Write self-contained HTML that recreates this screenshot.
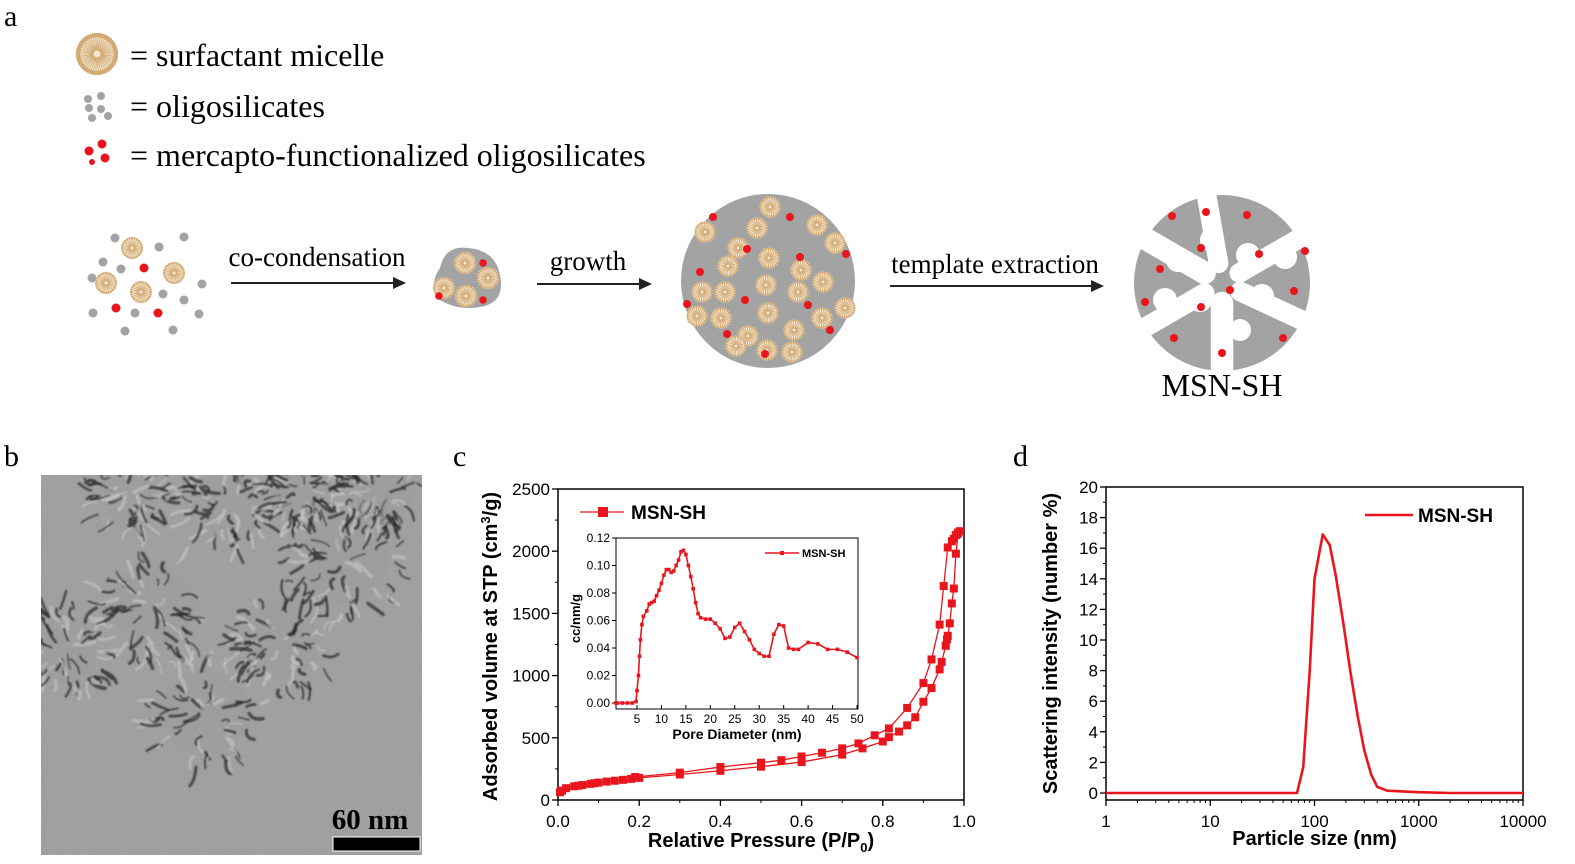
<!DOCTYPE html>
<html><head><meta charset="utf-8"><style>
html,body{margin:0;padding:0;background:#fff;}
svg{display:block;}
.serif{font-family:"Liberation Serif",serif;}
.sans{font-family:"Liberation Sans",sans-serif;}
</style></head><body>
<svg id="fig" width="1575" height="864" viewBox="0 0 1575 864" xmlns="http://www.w3.org/2000/svg">
<defs>
<filter id="noise" x="0" y="0" width="100%" height="100%"><feTurbulence type="fractalNoise" baseFrequency="1.2" numOctaves="2" seed="3"/><feColorMatrix type="matrix" values="0.33 0.33 0.33 0 0  0.33 0.33 0.33 0 0  0.33 0.33 0.33 0 0  0 0 0 0 1"/></filter>
<filter id="blur1"><feGaussianBlur stdDeviation="0.9"/></filter>
<clipPath id="temClip"><rect x="41" y="475" width="381" height="380"/></clipPath>
</defs>
<g id="panelA">
<text class="serif" x="4" y="26" font-size="30">a</text>
<g id="legA"></g>
<text class="serif" x="130" y="66" font-size="32">= surfactant micelle</text>
<text class="serif" x="130" y="117" font-size="32">= oligosilicates</text>
<text class="serif" x="130" y="166" font-size="32">= mercapto-functionalized oligosilicates</text>
<g id="stage1"></g>
<text class="serif" x="317" y="266" font-size="27" text-anchor="middle">co-condensation</text>
<line x1="231" y1="283" x2="398" y2="283" stroke="#222" stroke-width="2"/>
<polygon points="406,283 393,277 393,289" fill="#222"/>
<g id="stage2"></g>
<text class="serif" x="588" y="270" font-size="27" text-anchor="middle">growth</text>
<line x1="537" y1="284" x2="644" y2="284" stroke="#222" stroke-width="2"/>
<polygon points="652,284 639,278 639,290" fill="#222"/>
<g id="stage3"></g>
<text class="serif" x="995" y="273" font-size="27" text-anchor="middle">template extraction</text>
<line x1="890" y1="286" x2="1096" y2="286" stroke="#222" stroke-width="2"/>
<polygon points="1104,286 1091,280 1091,292" fill="#222"/>
<g id="stage4"></g>
<text class="serif" x="1222" y="396" font-size="32" text-anchor="middle">MSN-SH</text>
</g>
<g id="panelB">
<text class="serif" x="4" y="466" font-size="30">b</text>
<rect x="41" y="475" width="381" height="380" fill="#959595"/>
<rect x="41" y="475" width="381" height="380" filter="url(#noise)" opacity="0.3"/>
<g clip-path="url(#temClip)"><g id="temBlobs" filter="url(#blur1)"></g></g>
<text class="serif" x="370" y="829" font-size="29" font-weight="bold" text-anchor="middle">60 nm</text>
<rect x="333" y="837" width="87" height="14" fill="#000" stroke="#fff" stroke-width="1"/>
</g>
<g id="panelC">
<text class="serif" x="453" y="466" font-size="30">c</text>
</g>
<g id="panelD">
<text class="serif" x="1013" y="466" font-size="30">d</text>
</g>
</svg>
<script>
// ---------- Panel c data ----------
const adsP = [0.005,0.01,0.02,0.04,0.05,0.06,0.08,0.09,0.1,0.12,0.14,0.16,0.18,0.2,0.3,0.4,0.5,0.6,0.7,0.75,0.8,0.815,0.84,0.86,0.88,0.9,0.92,0.94,0.945,0.955,0.958,0.96,0.965,0.97,0.975,0.98,0.985,0.99];
const adsV = [62,75,95,110,115,120,130,135,140,148,155,162,170,178,205,235,268,305,365,415,470,505,550,600,665,790,900,1050,1110,1240,1290,1320,1420,1580,1700,1980,2140,2160];
const desP = [0.99,0.985,0.98,0.975,0.97,0.96,0.95,0.94,0.92,0.9,0.86,0.815,0.78,0.74,0.7,0.65,0.6,0.55,0.5,0.4,0.3,0.19];
const desV = [2160,2150,2130,2100,2080,2030,1720,1410,1130,940,740,575,520,455,415,380,350,320,300,265,220,185];
const cXTicks = [0,0.2,0.4,0.6,0.8,1.0];
const cXLabels = ["0.0","0.2","0.4","0.6","0.8","1.0"];
const cYTicks = [0,500,1000,1500,2000,2500];
const insetD = [0.7,1,2,3,4,4.8,5,5.3,5.5,5.7,6,6.3,7,7.5,8,8.5,9,9.5,10,10.5,11,11.5,12,12.5,13,13.5,14,14.5,15,15.5,16,16.5,17,17.5,18,19,20,21,22,23,24,25,26,27,28,29,30,31,32,33,34,35,36,37,38,40,42,44,46,48,50];
const insetV = [0,0,0,0,0,0.001,0.009,0.02,0.034,0.046,0.057,0.063,0.067,0.072,0.073,0.074,0.078,0.082,0.087,0.093,0.097,0.097,0.095,0.096,0.1,0.104,0.11,0.111,0.108,0.1,0.092,0.083,0.073,0.065,0.062,0.061,0.061,0.058,0.054,0.047,0.048,0.055,0.058,0.052,0.046,0.039,0.036,0.034,0.034,0.05,0.057,0.056,0.04,0.039,0.039,0.044,0.043,0.039,0.039,0.037,0.033];
const insetXTicks = [5,10,15,20,25,30,35,40,45,50];
const insetYTicks = [0,0.02,0.04,0.06,0.08,0.10,0.12];
const insetYLabels = ["0.00","0.02","0.04","0.06","0.08","0.10","0.12"];
// ---------- Panel d data ----------
const dlsSize = [1,68,78,90,100,120,140,160,190,220,260,300,350,400,500,1000,2000,10000];
const dlsVal = [0,0,1.7,8,14,16.9,16.2,14.2,11,8,5,2.8,1.2,0.4,0.15,0.05,0,0];
const dXTicks = [1,10,100,1000,10000];
const dYTicks = [0,2,4,6,8,10,12,14,16,18,20];

const NS="http://www.w3.org/2000/svg";
function mk(parent,tag,attrs){const e=document.createElementNS(NS,tag);for(const k in attrs)e.setAttribute(k,attrs[k]);parent.appendChild(e);return e;}
const RED="#e8161c";

// ---------- Panel c ----------
(function(){
 const g=document.getElementById('panelC');
 const L=558,R=964,T=489,B=800;
 const xs=p=>L+p*(R-L), ys=v=>B-v/2500*(B-T);
 const frame=mk(g,'rect',{x:L,y:T,width:R-L,height:B-T,fill:'none',stroke:'#000','stroke-width':1.5});
 
 
 cXTicks.forEach((t,i)=>{const x=xs(t);mk(g,'line',{x1:x,y1:B,x2:x,y2:B+6,stroke:'#000','stroke-width':1.3});
  const tx=mk(g,'text',{x:x,y:B+27,'font-size':17,'text-anchor':'middle',class:'sans'});tx.textContent=cXLabels[i];
  
  
  if(i<cXTicks.length-1) mk(g,'line',{x1:xs(t+0.1),y1:B,x2:xs(t+0.1),y2:B+3,stroke:'#000'});});
 cYTicks.forEach((t,i)=>{const y=ys(t);mk(g,'line',{x1:L-6,y1:y,x2:L,y2:y,stroke:'#000','stroke-width':1.3});
  const tx=mk(g,'text',{x:L-8,y:y+6,'font-size':17,'text-anchor':'end',class:'sans'});tx.textContent=t;
  
  
  if(i<cYTicks.length-1) mk(g,'line',{x1:L-3,y1:ys(t+250),x2:L,y2:ys(t+250),stroke:'#000'});});
 const xt=mk(g,'text',{x:(L+R)/2,y:847,'font-size':20,'font-weight':'bold','text-anchor':'middle',class:'sans'});
 xt.innerHTML='Relative Pressure (P/P<tspan font-size="13" dy="5">0</tspan><tspan dy="-5">)</tspan>';
 
 
 const yt=mk(g,'text',{x:0,y:0,'font-size':20,'font-weight':'bold','text-anchor':'middle',class:'sans',transform:`translate(497,${(T+B)/2+2}) rotate(-90)`});
 yt.innerHTML='Adsorbed volume at STP (cm<tspan font-size="13" dy="-7">3</tspan><tspan dy="7">/g)</tspan>';
 
 
 function series(P,V,name){
  const pl=mk(g,'polyline',{points:P.map((p,i)=>xs(p)+','+ys(V[i])).join(' '),fill:'none',stroke:RED,'stroke-width':1.3});
  
  
  P.forEach((p,i)=>{const r=mk(g,'rect',{x:xs(p)-4,y:ys(V[i])-4,width:8,height:8,fill:RED});
   
   });
 }
 series(adsP,adsV,'adsorption');series(desP,desV,'desorption');
 const lg=mk(g,'line',{x1:580,y1:512,x2:624,y2:512,stroke:RED,'stroke-width':1.3});
 
 
 mk(g,'rect',{x:598,y:507,width:10,height:10,fill:RED});
 const lt=mk(g,'text',{x:631,y:519,'font-size':19,'font-weight':'bold',class:'sans'});lt.textContent='MSN-SH';
 
 
 const iL=616,iR=858,iT=538,iB=709,y0=703,yTop=538;
 const ix=d=>637+(d-5)*(857-637)/45, iy=v=>y0-v/0.12*(y0-yTop);
 const ifr=mk(g,'rect',{x:iL,y:iT,width:iR-iL,height:iB-iT,fill:'none',stroke:'#000','stroke-width':1});
 
 
 insetXTicks.forEach(t=>{const x=ix(t);mk(g,'line',{x1:x,y1:iB,x2:x,y2:iB-4,stroke:'#000'});
  const tx=mk(g,'text',{x:x,y:iB+14,'font-size':12,'text-anchor':'middle',class:'sans'});tx.textContent=t;
  
  });
 insetYTicks.forEach((t,i)=>{const y=iy(t);mk(g,'line',{x1:iL,y1:y,x2:iL-4,y2:y,stroke:'#000'});
  const tx=mk(g,'text',{x:iL-6,y:y+4,'font-size':12,'text-anchor':'end',class:'sans'});tx.textContent=insetYLabels[i];
  
  });
 const ixt=mk(g,'text',{x:(iL+iR)/2,y:739,'font-size':14,'font-weight':'bold','text-anchor':'middle',class:'sans'});ixt.textContent='Pore Diameter (nm)';
 
 
 const iyt=mk(g,'text',{x:0,y:0,'font-size':13,'font-weight':'bold','text-anchor':'middle',class:'sans',transform:`translate(580,${(iT+iB)/2-5}) rotate(-90)`});iyt.textContent='cc/nm/g';
 
 
 const ipl=mk(g,'polyline',{points:insetD.map((d,i)=>ix(d)+','+iy(insetV[i])).join(' '),fill:'none',stroke:RED,'stroke-width':1.6});
 
 
 insetD.forEach((d,i)=>{const r=mk(g,'rect',{x:ix(d)-1.8,y:iy(insetV[i])-1.8,width:3.6,height:3.6,fill:RED});
  
  });
 mk(g,'line',{x1:765,y1:553,x2:799,y2:553,stroke:RED,'stroke-width':1.5});
 mk(g,'rect',{x:780,y:551,width:4,height:4,fill:RED});
 const ilt=mk(g,'text',{x:802,y:557,'font-size':11,'font-weight':'bold',class:'sans'});ilt.textContent='MSN-SH';
 
 
})();

// ---------- Panel d ----------
(function(){
 const g=document.getElementById('panelD');
 const L=1106,R=1523,T=487,B=800,Y0=793;
 const xs=s=>L+Math.log10(s)/4*(R-L), ys=v=>Y0-v/20*(Y0-T);
 const fr=mk(g,'rect',{x:L,y:T,width:R-L,height:B-T,fill:'none',stroke:'#000','stroke-width':1.5});
 
 
 dXTicks.forEach((t,i)=>{const x=xs(t);mk(g,'line',{x1:x,y1:B,x2:x,y2:B+6,stroke:'#000','stroke-width':1.3});
  const tx=mk(g,'text',{x:x,y:B+27,'font-size':17,'text-anchor':'middle',class:'sans'});tx.textContent=t;
  
  
  if(i<dXTicks.length-1) for(let m=2;m<10;m++){const xm=xs(t*m);mk(g,'line',{x1:xm,y1:B,x2:xm,y2:B+3,stroke:'#000'});}});
 dYTicks.forEach((t,i)=>{const y=ys(t);mk(g,'line',{x1:L-6,y1:y,x2:L,y2:y,stroke:'#000','stroke-width':1.3});
  const tx=mk(g,'text',{x:L-8,y:y+6,'font-size':17,'text-anchor':'end',class:'sans'});tx.textContent=t;
  
  
  if(i<dYTicks.length-1) mk(g,'line',{x1:L-3,y1:ys(t+1),x2:L,y2:ys(t+1),stroke:'#000'});});
 const xt=mk(g,'text',{x:(L+R)/2,y:845,'font-size':20,'font-weight':'bold','text-anchor':'middle',class:'sans'});xt.textContent='Particle size (nm)';
 
 
 const yt=mk(g,'text',{x:0,y:0,'font-size':20,'font-weight':'bold','text-anchor':'middle',class:'sans',transform:`translate(1057,${(T+B)/2}) rotate(-90)`});yt.textContent='Scattering intensity (number %)';
 
 
 const pl=mk(g,'polyline',{points:dlsSize.map((s,i)=>xs(s)+','+ys(dlsVal[i])).join(' '),fill:'none',stroke:RED,'stroke-width':2.6,'stroke-linejoin':'round'});
 
 
 const ll=mk(g,'line',{x1:1365,y1:515,x2:1413,y2:515,stroke:RED,'stroke-width':2.6});
 
 
 const lt=mk(g,'text',{x:1418,y:522,'font-size':19,'font-weight':'bold',class:'sans'});lt.textContent='MSN-SH';
 
 
})();

// ---------- Schematic ----------
function micelle(parent,cx,cy,r){
 const g=mk(parent,'g',{});
 
 
 mk(g,'circle',{cx,cy,r,fill:'#f4e6d2'});
 const n=Math.max(16,Math.round(r*2.2));
 for(let i=0;i<n;i++){const a=i/n*2*Math.PI;
  mk(g,'line',{x1:cx+Math.cos(a)*r*0.2,y1:cy+Math.sin(a)*r*0.2,x2:cx+Math.cos(a)*r*0.85,y2:cy+Math.sin(a)*r*0.85,stroke:'#d2aa72','stroke-width':0.8});
  mk(g,'circle',{cx:cx+Math.cos(a)*r*0.9,cy:cy+Math.sin(a)*r*0.9,r:Math.max(1.2,r*0.11),fill:'#d2aa72'});}
 mk(g,'circle',{cx,cy,r:r*0.18,fill:'none',stroke:'#d2aa72','stroke-width':0.8});
}
function dot(p,x,y,r,c){mk(p,'circle',{cx:x,cy:y,r,fill:c});}
const GR='#a3a3a3';
(function(){
 const lg=document.getElementById('legA');
 micelle(lg,97,54,21);
 [[88,99,4],[101,96,4],[89,108,4],[101,109,4],[92,118,4],[108,116,4]].forEach(a=>dot(lg,a[0],a[1],a[2],GR));
 [[102,144,4.5],[89,151,4.5],[105,158,4.5],[92,162,3]].forEach(a=>dot(lg,a[0],a[1],a[2],RED));
 const s1=document.getElementById('stage1');
 [[115,238],[184,237],[159,247],[103,262],[121,269],[92,278],[202,284],[163,294],[184,300],[93,313],[135,313],[199,314],[125,331],[173,330]].forEach(a=>dot(s1,a[0],a[1],4.5,GR));
 [[144,268],[116,308],[158,313]].forEach(a=>dot(s1,a[0],a[1],4.5,RED));
 [[132,248,11],[174,273,11],[106,283,11],[141,292,11]].forEach(a=>micelle(s1,a[0],a[1],a[2]));
 const s2=document.getElementById('stage2');
 mk(s2,'path',{d:'M440,268 Q445,245 468,248 Q495,250 500,275 Q505,300 485,306 Q460,312 440,300 Q428,285 440,268Z',fill:GR});
 [[465,263],[488,278],[444,288],[466,296]].forEach(a=>micelle(s2,a[0],a[1],11));
 [[483,263],[439,296],[483,300]].forEach(a=>dot(s2,a[0],a[1],3.8,RED));
 const s3=document.getElementById('stage3');
 mk(s3,'circle',{cx:768,cy:281,r:87,fill:GR});
 [[770,207],[705,232],[757,228],[817,225],[835,243],[738,248],[769,258],[801,270],[728,266],[823,282],[766,285],[702,292],[725,292],[798,292],[845,308],[697,316],[768,313],[721,318],[822,318],[748,336],[794,330],[736,346],[792,352],[767,350]].forEach(a=>micelle(s3,a[0],a[1],10.5));
 [[713,217],[790,217],[747,249],[800,257],[700,272],[846,254],[687,304],[745,300],[808,305],[727,334],[765,354],[830,330]].forEach(a=>dot(s3,a[0],a[1],4,RED));
 const s4=document.getElementById('stage4');
 mk(s4,'circle',{cx:1222,cy:283,r:88,fill:GR});
 [[-100,14],[-30,14],[25,14],[90,16],[150,14],[210,16]].forEach(a=>{const an=a[0]*Math.PI/180;
  mk(s4,'line',{x1:1222+Math.cos(an)*20,y1:283+Math.sin(an)*20,x2:1222+Math.cos(an)*95,y2:283+Math.sin(an)*95,stroke:'#fff','stroke-width':a[1]*1.4,'stroke-linecap':'round'});});
 [[1212,240,12],[1248,255,12],[1262,296,12],[1200,300,12],[1178,260,12],[1240,330,11],[1285,257,12],[1165,300,12]].forEach(a=>mk(s4,'circle',{cx:a[0],cy:a[1],r:a[2],fill:'#fff'}));
 [[1172,216],[1206,212],[1247,215],[1259,254],[1305,251],[1160,269],[1145,302],[1201,248],[1230,290],[1294,291],[1201,307],[1174,338],[1283,338],[1222,353]].forEach(a=>dot(s4,a[0],a[1],4,RED));
 // TEM texture (decorative, fuzzy worm-like strands)
 const tb=document.getElementById('temBlobs');
 let seed=7;const rnd=()=>{seed=(seed*9301+49297)%233280;return seed/233280;};
 [[153,605,55],[205,712,58],[282,640,52],[345,560,58],[65,650,45],[130,492,40],[230,505,45],[380,495,42],[300,490,35]].forEach(c=>{
  mk(tb,'circle',{cx:c[0],cy:c[1],r:c[2]*0.75,fill:'#9c9c9c',opacity:0.5});
  for(let k=0;k<70;k++){const a=rnd()*2*Math.PI,r0=Math.sqrt(rnd())*c[2];
   const x0=c[0]+Math.cos(a)*r0,y0=c[1]+Math.sin(a)*r0;const a2=a+(rnd()-0.5)*1.2,len=6+rnd()*14;
   const x1=x0+Math.cos(a2)*len,y1=y0+Math.sin(a2)*len;const mx=(x0+x1)/2+(rnd()-0.5)*10,my=(y0+y1)/2+(rnd()-0.5)*10;
   const dark=rnd()<0.65;
   mk(tb,'path',{d:`M${x0},${y0} Q${mx},${my} ${x1},${y1}`,fill:'none',stroke:dark?'#2a2a2a':'#c8c8c8','stroke-width':1.5+rnd()*2.2,'stroke-linecap':'round',opacity:dark?0.7:0.6});}
 });
})();
</script>
</body></html>
